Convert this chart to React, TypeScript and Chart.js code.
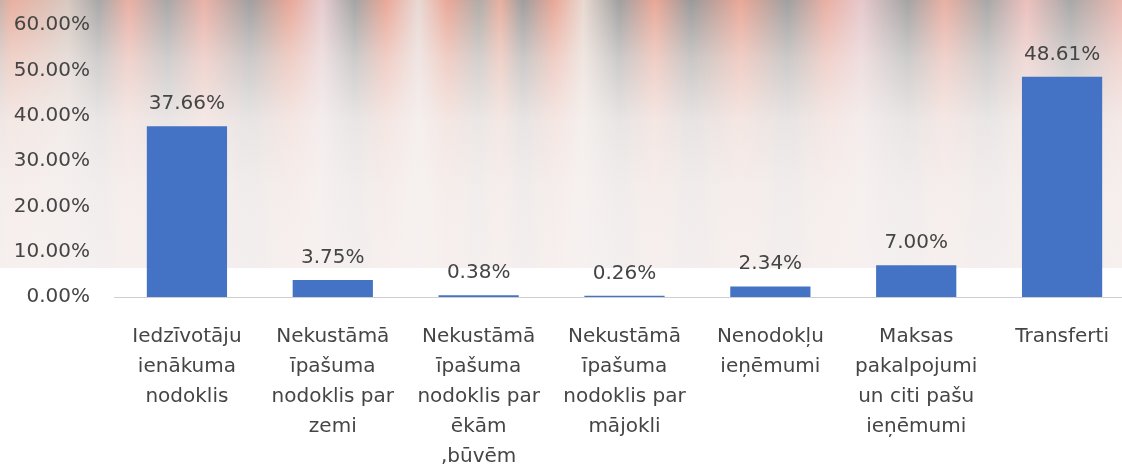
import React, { useEffect, useRef } from "react";
import { Chart, registerables } from "chart.js";

Chart.register(...registerables);

const categories: string[][] = [
  ["Iedzīvotāju", "ienākuma", "nodoklis"],
  ["Nekustāmā", "īpašuma", "nodoklis par", "zemi"],
  ["Nekustāmā", "īpašuma", "nodoklis par", "ēkām", ",būvēm"],
  ["Nekustāmā", "īpašuma", "nodoklis par", "mājokli"],
  ["Nenodokļu", "ieņēmumi"],
  ["Maksas", "pakalpojumi", "un citi pašu", "ieņēmumi"],
  ["Transferti"],
];

const values: number[] = [37.66, 3.75, 0.38, 0.26, 2.34, 7.0, 48.61];

const yMin = 0;
const yMax = 60;
const yStep = 10;

const FONT = "'DejaVu Sans', sans-serif";
const TEXT = "#454545";

const stripeStops: [number, string][] = [
  [0, "#c8b0a8"],
  [1, "#e8b0a0"],
  [6, "#d8c8c0"],
  [8.8, "#a8a8a8"],
  [11.5, "#eab0a4"],
  [14.9, "#a8a8a8"],
  [18.2, "#eab2a8"],
  [22.3, "#a0a0a0"],
  [25.8, "#e8a898"],
  [28.7, "#e6ccd0"],
  [31.6, "#a4a4a4"],
  [34.4, "#eaa898"],
  [37.3, "#e8d8d4"],
  [39.9, "#eaa898"],
  [42.7, "#b0aca8"],
  [44.6, "#e8b0a0"],
  [46.6, "#9e9e9e"],
  [49.4, "#eaa898"],
  [52, "#e8d8d0"],
  [55.2, "#a0a0a0"],
  [58.4, "#eaa898"],
  [61.6, "#9a9a9a"],
  [66, "#eaa898"],
  [70.2, "#a0a0a0"],
  [73.7, "#eab0a4"],
  [76.8, "#e6c8cc"],
  [80.9, "#a4a4a4"],
  [84.2, "#eab0a4"],
  [88, "#a8a8a8"],
  [91.5, "#ecc0bc"],
  [95.4, "#a8a8a8"],
  [100, "#ecb8b0"],
];

const stripeCss =
  "linear-gradient(to right, " +
  stripeStops.map(([p, c]) => `${c} ${p}%`).join(", ") +
  ")";
const fadeCss =
  "linear-gradient(to bottom, rgba(247,244,243,0) 0%, rgba(247,244,243,0.5) 22%, rgba(247,244,243,0.82) 45%, rgba(247,243,242,0.92) 70%, rgba(247,243,242,0.95) 100%)";

const dataLabels = {
  id: "dataLabels",
  afterDatasetsDraw(chart: any) {
    const ctx = chart.ctx;
    const meta = chart.getDatasetMeta(0);
    ctx.save();
    ctx.font = `20px ${FONT}`;
    ctx.fillStyle = TEXT;
    ctx.textAlign = "center";
    ctx.textBaseline = "alphabetic";
    meta.data.forEach((bar: any, i: number) => {
      ctx.fillText(values[i].toFixed(2) + "%", bar.x, bar.y - 17);
    });
    ctx.restore();
  },
};

export default function App() {
  const ref = useRef<HTMLCanvasElement | null>(null);

  useEffect(() => {
    if (!ref.current) return;
    const chart = new Chart(ref.current, {
      type: "bar",
      data: {
        labels: categories,
        datasets: [
          {
            data: values,
            backgroundColor: "#4472C4",
            borderWidth: 0,
            categoryPercentage: 1,
            barPercentage: 0.55,
          },
        ],
      },
      options: {
        responsive: false,
        animation: false,
        devicePixelRatio: 1,
        layout: { padding: { top: 25, left: 0, right: 0, bottom: 0 } },
        plugins: {
          legend: { display: false },
          tooltip: { enabled: false },
          title: { display: false },
        },
        scales: {
          x: {
            grid: { display: false, drawTicks: false },
            border: { display: true, color: "#cfcfcf", width: 1 },
            ticks: {
              color: TEXT,
              font: { family: FONT, size: 20, lineHeight: 1.5 },
              padding: 25,
              maxRotation: 0,
              minRotation: 0,
              autoSkip: false,
            },
            afterFit(scale: any) {
              scale.height = 178;
              scale.paddingLeft = 0;
              scale.paddingRight = 0;
            },
          },
          y: {
            min: yMin,
            max: yMax,
            grid: { display: false, drawTicks: false },
            border: { display: false },
            ticks: {
              stepSize: yStep,
              color: TEXT,
              font: { family: FONT, size: 20 },
              padding: 24,
              callback: (v: any) => Number(v).toFixed(2) + "%",
            },
            afterFit(scale: any) {
              scale.width = 114;
              scale.paddingTop = 0;
              scale.paddingBottom = 0;
            },
          },
        },
      },
      plugins: [dataLabels],
    });
    return () => chart.destroy();
  }, []);

  return (
    <div
      style={{
        position: "fixed",
        left: 0,
        top: 0,
        width: 1122,
        height: 475,
        overflow: "hidden",
        background: "#ffffff",
      }}
    >
      <div
        style={{
          position: "absolute",
          left: 0,
          top: 0,
          width: 1122,
          height: 268,
          background: `${fadeCss}, ${stripeCss}`,
        }}
      />
      <canvas
        ref={ref}
        width={1135}
        height={475}
        style={{ position: "absolute", left: 0, top: 0, width: 1135, height: 475 }}
      />
    </div>
  );
}
